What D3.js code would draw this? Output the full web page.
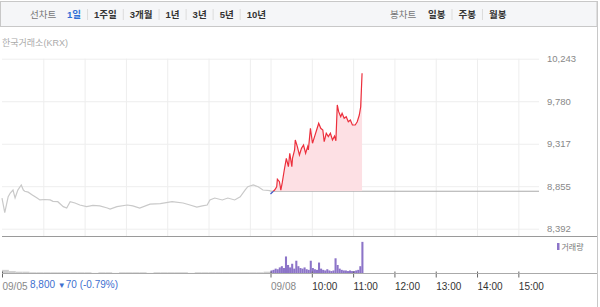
<!DOCTYPE html>
<html>
<head>
<meta charset="utf-8">
<script src="https://cdn.jsdelivr.net/npm/d3@7"></script>
<style>
  body { margin: 0; background: #fff; }
  svg { display: block; font-family: "Liberation Sans", "Noto Sans CJK KR", sans-serif; }
</style>
</head>
<body>
<div id="chart"></div>
<script>
// header tabs
const periodTabs = ["1일", "1주일", "3개월", "1년", "3년", "5년", "10년"];
const candleTabs = ["일봉", "주봉", "월봉"];

// 09/05 (previous session), gray line
const prevTimes = ["09:00","09:04","09:09","09:12","09:16","09:19","09:23","09:28","09:31","09:33",
  "09:38","09:44","09:51","09:55","10:02","10:10","10:14","10:21","10:29","10:34",
  "10:39","10:46","10:53","11:03","11:12","11:22","11:33","11:37","11:47","12:02",
  "12:10","12:20","12:35","12:50","13:07","13:23","13:33","13:43","13:51","13:58",
  "14:02","14:09","14:20","14:28","14:38","14:46","14:53","14:57","15:05","15:12",
  "15:19","15:29","15:30"];
const prevPrices = [8726,8566,8740,8781,8813,8726,8813,8868,8813,8800,
  8790,8760,8726,8705,8710,8705,8690,8686,8632,8617,
  8686,8672,8650,8632,8645,8640,8617,8606,8632,8650,
  8640,8617,8660,8665,8686,8672,8650,8628,8640,8650,
  8705,8726,8705,8726,8705,8740,8813,8849,8868,8849,
  8813,8806,8800];

// 09/08 (today)
const todayTimes = ["09:00","09:06","09:09","09:10","09:13","09:15","09:17","09:20","09:23","09:26",
  "09:28","09:31","09:32","09:35","09:36","09:39","09:42","09:45","09:48","09:51",
  "09:54","09:55","09:58","10:01","10:04","10:07","10:10","10:13","10:16","10:18",
  "10:21","10:24","10:27","10:30","10:33","10:35","10:37","10:39","10:42","10:44",
  "10:47","10:50","10:53","10:56","10:59","11:03","11:06","11:09","11:11","11:12","11:13"];
const todayPrices = [8770,8813,8849,8930,8904,8813,8890,9031,9158,9067,
  9213,9067,9162,9249,9358,9285,9194,9267,9303,9213,
  9285,9249,9485,9322,9394,9467,9540,9485,9467,9339,
  9431,9394,9431,9358,9400,9350,9739,9666,9611,9648,
  9594,9611,9557,9576,9521,9521,9557,9630,9720,9902,10084];

const prevClose = 8800;

// volume, 3-minute buckets from 09:00 today
const todayVolumes = [5,6,8,7,10,12,9,28,14,10,16,8,21,12,9,8,10,7,6,21,
  9,7,6,18,8,6,5,7,5,4,5,25,14,8,6,5,5,4,5,4,4,5,6,12,52];
// previous session volume, 10-minute buckets
const prevVolumes = [6,4,3,3,2,2,2,2,2,2,2,2,2,1,2,2,1,2,2,2,
  2,1,2,2,2,2,2,1,2,2,2,2,2,2,2,2,2,2,3];

const priceTicks = [8392, 8855, 9317, 9780, 10243];
const prevGrid = ["10:00", "11:00", "12:00", "13:00", "14:00", "15:00"];
const todayTicks = ["09:00", "10:00", "11:00", "12:00", "13:00", "14:00", "15:00"];
const todayTickLabels = ["09/08", "10:00", "11:00", "12:00", "13:00", "14:00", "15:00"];

const W = 600, H = 307;
const toMin = t => { const [h, m] = t.split(":").map(Number); return (h - 9) * 60 + m; };
const SESSION = 390;

const svg = d3.select("#chart").append("svg")
  .attr("width", W).attr("height", H);

// ---- header bar ----
svg.append("rect")
  .attr("x", 0.5).attr("y", 1.5).attr("width", 596.5).attr("height", 25)
  .attr("fill", "#f5f6f8").attr("stroke", "#c8c8c8");

const header = svg.append("g").style("font-size", "9.5px");
header.append("text").attr("x", 30).attr("y", 18).attr("fill", "#777").text("선차트");

function tabRow(labels, x0, activeIdx) {
  let x = x0;
  labels.forEach((t, i) => {
    const tx = header.append("text").attr("x", x).attr("y", 18)
      .attr("font-weight", "bold")
      .attr("fill", i === activeIdx ? "#2f6fd6" : "#333")
      .text(t);
    const w = tx.node().getComputedTextLength();
    if (i < labels.length - 1) {
      header.append("line")
        .attr("x1", x + w + 6.5).attr("x2", x + w + 6.5)
        .attr("y1", 9).attr("y2", 20)
        .attr("stroke", "#dcdcdc");
    }
    x += w + 13;
  });
}
tabRow(periodTabs, 67, 0);
header.append("text").attr("x", 390).attr("y", 18).attr("fill", "#777").text("봉차트");
tabRow(candleTabs, 428, -1);

svg.append("text").attr("x", 2).attr("y", 46)
  .style("font-size", "9px").attr("fill", "#aaa").text("한국거래소(KRX)");

// ---- scales ----
const x = d3.scaleLinear().domain([0, 2 * SESSION]).range([2, 539]);
const y = d3.scaleLinear().domain([8305, 10243]).range([236.7, 58.7]);
const yv = d3.scaleLinear().domain([0, 60]).range([273.5, 237]);

// ---- grid ----
const gridX = prevGrid.map(toMin).concat(todayTicks.map(t => SESSION + toMin(t)));
svg.append("g")
  .attr("transform", `translate(0,${y(10243)})`)
  .call(d3.axisBottom(x).tickValues(gridX).tickSize(y(8305) - y(10243)).tickFormat(""))
  .call(g => g.select(".domain").remove())
  .call(g => g.selectAll("line").attr("stroke", "#eeeeee"));

svg.append("g")
  .attr("transform", `translate(${x(0)},0)`)
  .call(d3.axisRight(y).tickValues(priceTicks).tickSize(x(780) - x(0)).tickFormat(""))
  .call(g => g.select(".domain").remove())
  .call(g => g.selectAll("line").attr("stroke", "#eeeeee"));

// y labels
svg.append("g")
  .attr("transform", "translate(547,0)")
  .call(d3.axisRight(y).tickValues(priceTicks).tickSize(0).tickPadding(0).tickFormat(d3.format(",")))
  .call(g => g.select(".domain").remove())
  .call(g => g.selectAll("text")
    .attr("fill", "#888").style("font-size", "9.5px")
    .style("font-family", "'Liberation Sans', sans-serif"));

// ---- prices ----
const prevData = prevTimes.map((t, i) => ({ m: toMin(t), p: prevPrices[i] }));
const todayData = todayTimes.map((t, i) => ({ m: SESSION + toMin(t), p: todayPrices[i] }));

const defs = svg.append("defs");
defs.append("clipPath").attr("id", "above")
  .append("rect").attr("x", 0).attr("y", 0).attr("width", W).attr("height", y(prevClose));
defs.append("clipPath").attr("id", "below")
  .append("rect").attr("x", 0).attr("y", y(prevClose)).attr("width", W).attr("height", H);

const line = d3.line().x(d => x(d.m)).y(d => y(d.p));
const area = d3.area().x(d => x(d.m)).y0(y(prevClose)).y1(d => y(d.p));

svg.append("path").datum(prevData)
  .attr("d", line).attr("fill", "none")
  .attr("stroke", "#c9c9c9").attr("stroke-width", 1.2);

// previous close reference
svg.append("line")
  .attr("x1", x(SESSION)).attr("x2", x(2 * SESSION))
  .attr("y1", y(prevClose)).attr("y2", y(prevClose))
  .attr("stroke", "#aaaaaa").attr("stroke-width", 1);

svg.append("path").datum(todayData)
  .attr("d", area).attr("fill", "#fde0e4")
  .attr("clip-path", "url(#above)");

svg.append("path").datum(todayData)
  .attr("d", line).attr("fill", "none")
  .attr("stroke", "#ec2f3c").attr("stroke-width", 1.2)
  .attr("clip-path", "url(#above)");

svg.append("path").datum(todayData)
  .attr("d", line).attr("fill", "none")
  .attr("stroke", "#3a55c8").attr("stroke-width", 1.2)
  .attr("clip-path", "url(#below)");

// ---- panel separators ----
svg.append("line").attr("x1", 2).attr("x2", 597).attr("y1", 236.5).attr("y2", 236.5)
  .attr("stroke", "#9a9a9a");
svg.append("line").attr("x1", 597.5).attr("x2", 597.5).attr("y1", 1).attr("y2", H)
  .attr("stroke", "#c8c8c8");

// ---- volume ----
const vw = x(3) - x(0);
svg.append("g").selectAll("rect")
  .data(prevVolumes).enter().append("rect")
  .attr("x", (d, i) => x(i * 10))
  .attr("y", d => yv(d))
  .attr("width", x(10) - x(0))
  .attr("height", d => yv(0) - yv(d))
  .attr("fill", "#cfcfcf");

svg.append("g").selectAll("rect")
  .data(todayVolumes).enter().append("rect")
  .attr("x", (d, i) => x(SESSION + i * 3))
  .attr("y", d => yv(d))
  .attr("width", vw)
  .attr("height", d => yv(0) - yv(d))
  .attr("fill", "#8c74c8");

// time axis
const tickM = [0].concat(todayTicks.map(t => SESSION + toMin(t)));
const tickLabels = ["09/05"].concat(todayTickLabels);
const xAxis = svg.append("g")
  .attr("transform", "translate(0,273.5)")
  .call(d3.axisBottom(x).tickValues(tickM).tickSize(4).tickPadding(5)
    .tickFormat((d, i) => tickLabels[i]));
xAxis.select(".domain").remove();
xAxis.selectAll("line").attr("stroke", "#666").attr("y1", -2);
xAxis.selectAll("text")
  .attr("text-anchor", "start")
  .attr("fill", (d, i) => i < 2 ? "#888" : "#333")
  .style("font-size", "10px")
  .style("font-family", "'Liberation Sans', sans-serif");

svg.append("line").attr("x1", 2).attr("x2", 597).attr("y1", 273.5).attr("y2", 273.5)
  .attr("stroke", "#aaaaaa");

// volume legend
svg.append("rect").attr("x", 557).attr("y", 243).attr("width", 2.5).attr("height", 7)
  .attr("fill", "#8c74c8");
svg.append("text").attr("x", 561.5).attr("y", 250)
  .style("font-size", "8px").attr("fill", "#777").text("거래량");

// last close info
const info = svg.append("text").attr("x", 30).attr("y", 287.5)
  .style("font-size", "10px").attr("fill", "#3d6fd0");
info.append("tspan").text("8,800 ");
info.append("tspan").style("font-size", "8px").text("▼");
info.append("tspan").text("70 (-0.79%)");
</script>
</body>
</html>
